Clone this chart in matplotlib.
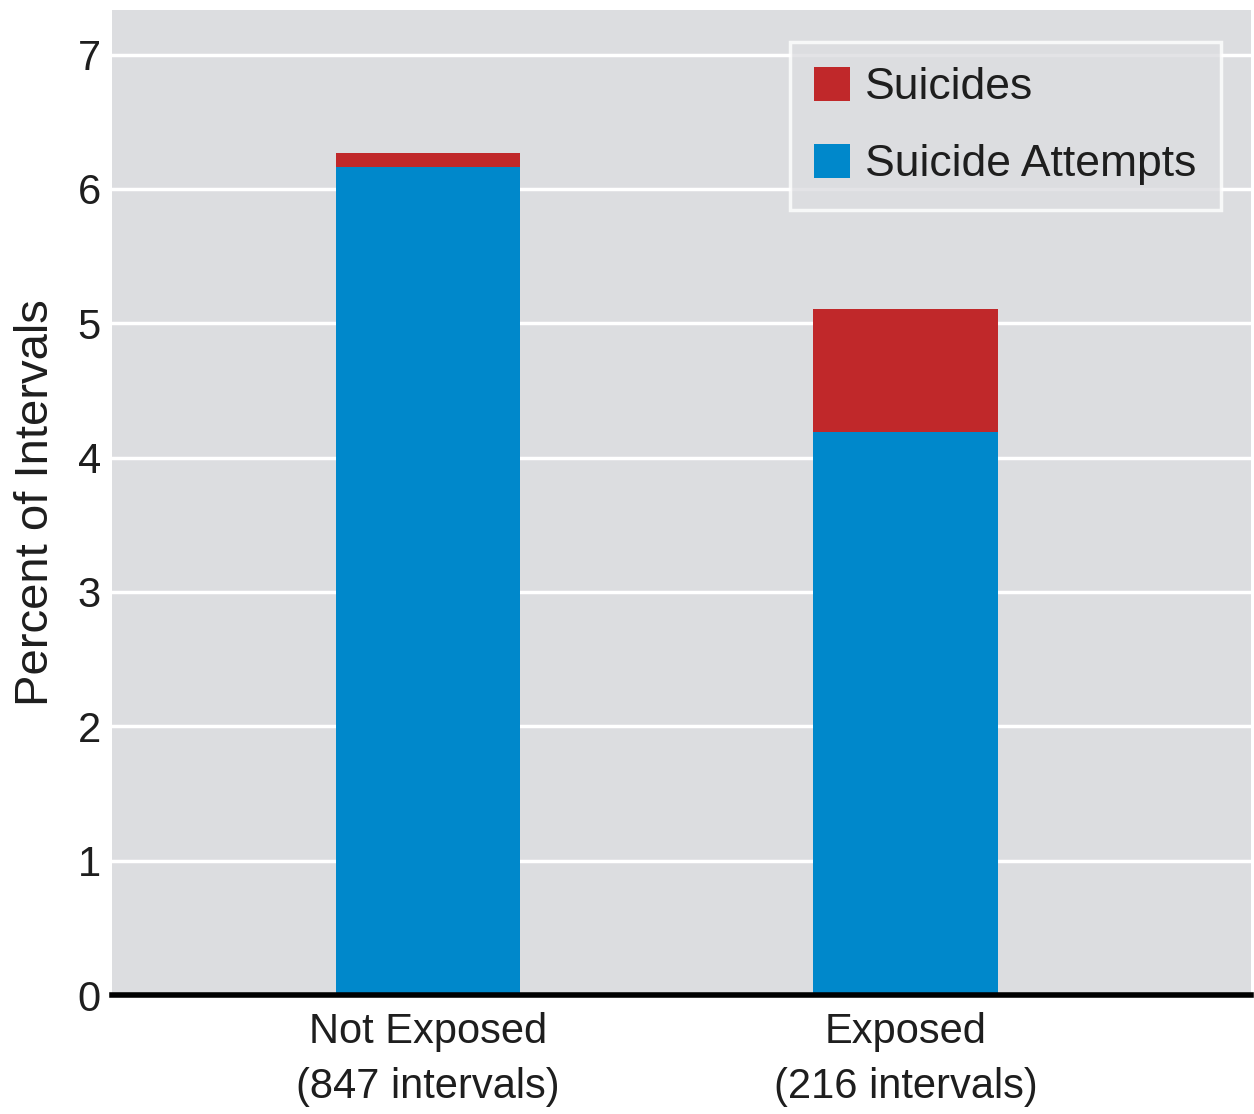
import matplotlib.pyplot as plt

plt.rcParams['font.family'] = ['Liberation Sans', 'DejaVu Sans']

# Percent of intervals, stacked: attempts at the bottom, suicides on top
groups = ['Not Exposed\n(847 intervals)', 'Exposed\n(216 intervals)']
attempts = [6.16, 4.19]
suicides = [0.11, 0.92]

blue = '#0088cb'
red = '#c0282a'
bg = '#dcdde0'
ink = '#1e1e1e'

fig = plt.figure(figsize=(12.54, 11.14), dpi=100)
ax = fig.add_axes([0.0893, 0.1068, 0.908, 0.884])
ax.set_facecolor(bg)

x = range(len(groups))
ax.bar(x, attempts, width=0.386, color=blue, label='Suicide Attempts', zorder=3)
ax.bar(x, suicides, width=0.386, bottom=attempts, color=red, label='Suicides', zorder=3)

ax.set_xlim(-0.662, 1.723)
ax.set_ylim(0, 7.33)
ax.set_yticks(range(0, 8))
ax.yaxis.grid(True, color='white', linewidth=2.5, zorder=1)
ax.set_axisbelow(True)
ax.axhline(0, color='black', linewidth=4, zorder=4, clip_on=False)

ax.set_xticks(list(x))
ax.set_xticklabels(groups, fontsize=30, color=ink, linespacing=1.5)
ax.tick_params(axis='both', length=0, labelsize=30, colors=ink)
ax.tick_params(axis='x', pad=12)
ax.tick_params(axis='y', pad=8)
ax.set_ylabel('Percent of Intervals', fontsize=34, color=ink, labelpad=14)

for s in ax.spines.values():
    s.set_visible(False)

handles, labels = ax.get_legend_handles_labels()
leg = ax.legend(handles[::-1], labels[::-1], loc='upper right',
                bbox_to_anchor=(0.974, 0.9675), borderaxespad=0,
                fontsize=32, frameon=True, fancybox=False,
                facecolor=bg, edgecolor='white',
                handlelength=0.8, handleheight=0.8, handletextpad=0.35,
                labelspacing=0.8, borderpad=0.55)
leg.get_frame().set_linewidth(2.5)
for t in leg.get_texts():
    t.set_color(ink)

fig.savefig('out.png', dpi=100)
